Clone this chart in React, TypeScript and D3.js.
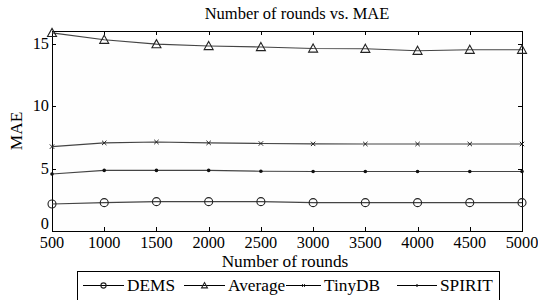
import React from 'react';
import * as d3 from 'd3';

// Rounds on the x axis
const rounds = [500, 1000, 1500, 2000, 2500, 3000, 3500, 4000, 4500, 5000];

// MAE per method
const dems = [2.16, 2.27, 2.35, 2.35, 2.35, 2.27, 2.27, 2.27, 2.27, 2.27];
const average = [15.85, 15.3, 14.95, 14.8, 14.72, 14.6, 14.58, 14.42, 14.5, 14.5];
const tinydb = [6.75, 7.05, 7.12, 7.05, 7.0, 6.97, 6.96, 6.96, 6.96, 6.96];
const spirit = [4.56, 4.85, 4.85, 4.85, 4.78, 4.76, 4.76, 4.76, 4.76, 4.76];

const seriesNames = ['DEMS', 'Average', 'TinyDB', 'SPIRIT'];
const yTicks = [0, 5, 10, 15];

const FONT = 'Liberation Serif';
const W = 538;
const H = 300;
const left = 52, right = 522, top = 31, bottom = 231;

const x = d3.scaleLinear().domain([500, 5000]).range([left, right]);
const y = d3.scaleLinear().domain([0, 16]).range([bottom, top]);
const line = d3.line<number>().x((_, i) => x(rounds[i])).y(d => y(d));

// legend slot positions (line start, text start)
const legendSlots = [
  { x1: 83, tx: 127 },
  { x1: 184, tx: 228 },
  { x1: 286, tx: 324 },
  { x1: 397, tx: 440 },
];

const Marker = ({ idx, cx, cy, s = 1 }: { idx: number; cx: number; cy: number; s?: number }) => {
  if (idx === 0) {
    return <circle cx={cx} cy={cy} r={4 * s} fill="none" stroke="#222" strokeWidth={1.1} />;
  }
  if (idx === 1) {
    const h = 4.5 * s;
    return (
      <path
        d={`M${cx},${cy - h}L${cx + h},${cy + h * 0.8}L${cx - h},${cy + h * 0.8}Z`}
        fill="none" stroke="#222" strokeWidth={1.1}
      />
    );
  }
  if (idx === 2) {
    const h = 2.2 * s;
    return (
      <path
        d={`M${cx - h},${cy - h}L${cx + h},${cy + h}M${cx - h},${cy + h}L${cx + h},${cy - h}`}
        stroke="#222" strokeWidth={1}
      />
    );
  }
  return <circle cx={cx} cy={cy} r={1.8 * s} fill="#111" />;
};

const App = () => {
  const allSeries = [dems, average, tinydb, spirit];
  const txt = { fontFamily: FONT };
  return (
    <div style={{ position: 'absolute', left: 0, top: 0 }}>
      <svg width={W} height={H}>
        <rect width={W} height={H} fill="#fff" />

        {/* Title */}
        <text x={(left + right) / 2 + 10} y={19} textAnchor="middle" fontSize={16.5} style={txt}>
          Number of rounds vs. MAE
        </text>

        {/* Plot box */}
        <rect x={left + 0.5} y={top + 0.5} width={right - left} height={bottom - top}
          fill="#fefefe" stroke="#000" strokeWidth={1} />

        {/* X ticks */}
        {rounds.map(r => {
          const px = Math.round(x(r)) + 0.5;
          return (
            <g key={`x${r}`}>
              <line x1={px} x2={px} y1={bottom} y2={bottom - 4} stroke="#000" />
              <line x1={px} x2={px} y1={top} y2={top + 4} stroke="#000" />
              <text x={x(r)} y={248} textAnchor="middle" fontSize={16.3} style={txt}>{r}</text>
            </g>
          );
        })}

        {/* Y ticks */}
        {yTicks.map(t => {
          const py = Math.round(y(t)) + 0.5;
          return (
            <g key={`y${t}`}>
              <line x1={left} x2={left + 4} y1={py} y2={py} stroke="#000" />
              <line x1={right} x2={right - 4} y1={py} y2={py} stroke="#000" />
              <text x={49} y={y(t) + (t === 0 ? -2 : 5)} textAnchor="end" fontSize={16.3} style={txt}>{t}</text>
            </g>
          );
        })}

        {/* Axis labels */}
        <text x={285} y={267} textAnchor="middle" fontSize={17.3} style={txt}>Number of rounds</text>
        <text transform={`translate(22, ${(top + bottom) / 2}) rotate(-90)`} textAnchor="middle" fontSize={17.3} style={txt}>MAE</text>

        {/* Series */}
        {allSeries.map((vals, idx) => (
          <g key={`s${idx}`}>
            <path d={line(vals) || ''} fill="none" stroke="#444" strokeWidth={1.2} />
            {vals.map((v, i) => (
              <Marker key={i} idx={idx} cx={x(rounds[i])} cy={y(v)} />
            ))}
          </g>
        ))}

        {/* Legend */}
        <rect x={77.5} y={271.5} width={422} height={32} fill="#fff" stroke="#000" />
        {seriesNames.map((name, idx) => {
          const slot = legendSlots[idx];
          const x2 = slot.tx - 3;
          return (
            <g key={name}>
              <line x1={slot.x1} x2={x2} y1={285.5} y2={285.5} stroke="#000" />
              <Marker idx={idx} cx={(slot.x1 + x2) / 2} cy={285.5} s={0.65} />
              <text x={slot.tx} y={291} fontSize={17.3} style={txt}>{name}</text>
            </g>
          );
        })}
      </svg>
    </div>
  );
};

export default App;
